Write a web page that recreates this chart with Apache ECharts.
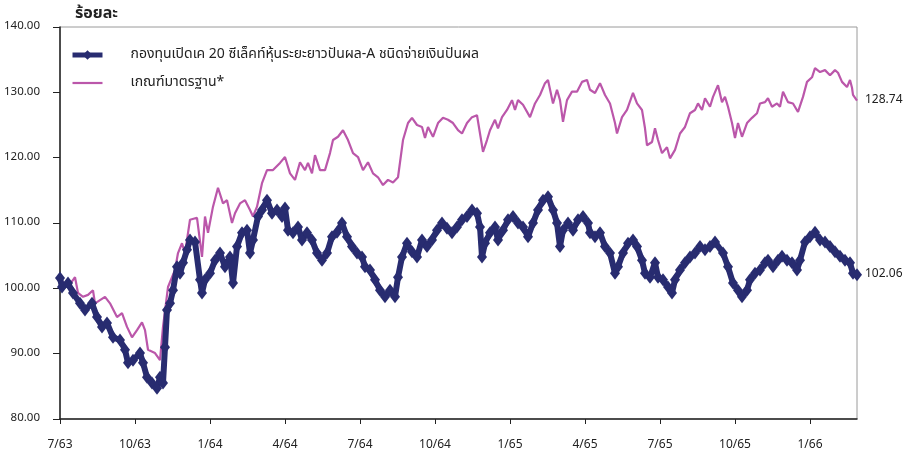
<!DOCTYPE html>
<html>
<head>
<meta charset="utf-8">
<script src="https://cdn.jsdelivr.net/npm/echarts@6/dist/echarts.min.js"></script>
<style>
html,body{margin:0;padding:0;background:#fff;}
#c{width:911px;height:453px;}
</style>
</head>
<body>
<div id="c"></div>
<script>
// x = months elapsed since 7/63 (Thai Buddhist year)
const seriesNames = ['กองทุนเปิดเค 20 ซีเล็คท์หุ้นระยะยาวปันผล-A ชนิดจ่ายเงินปันผล', 'เกณฑ์มาตรฐาน*'];
const yTicks = [80, 90, 100, 110, 120, 130, 140];
const xTickLabels = ['7/63','10/63','1/64','4/64','7/64','10/64','1/65','4/65','7/65','10/65','1/66'];
const unitTitle = 'ร้อยละ';

const fundMonths = [0,0.08,0.32,0.52,0.8,1.0,1.28,1.48,1.68,1.88,2.12,2.4,2.6,2.72,2.92,3.2,3.32,3.48,3.68,3.88,4.0,4.12,4.2,4.28,4.4,4.52,4.68,4.8,4.92,5.08,5.2,5.4,5.6,5.68,5.8,6.0,6.2,6.4,6.6,6.8,6.92,7.08,7.28,7.48,7.6,7.72,7.92,8.08,8.28,8.48,8.68,8.88,9.0,9.12,9.32,9.52,9.68,9.88,10.08,10.28,10.48,10.68,10.88,11.08,11.28,11.48,11.68,11.88,12.08,12.2,12.4,12.6,12.8,13.0,13.2,13.4,13.52,13.68,13.88,14.08,14.28,14.48,14.68,14.88,15.08,15.28,15.48,15.68,15.88,16.08,16.28,16.48,16.68,16.8,16.88,17.0,17.2,17.4,17.52,17.72,17.92,18.12,18.32,18.52,18.72,18.92,19.12,19.32,19.52,19.72,19.88,20.0,20.12,20.32,20.52,20.72,20.92,21.12,21.2,21.4,21.6,21.8,22.0,22.2,22.32,22.52,22.72,22.92,23.08,23.28,23.4,23.6,23.8,23.92,24.12,24.32,24.48,24.6,24.8,25.0,25.2,25.4,25.6,25.8,26.0,26.2,26.52,26.72,26.92,27.12,27.28,27.48,27.6,27.8,28.0,28.2,28.32,28.52,28.72,28.88,29.08,29.28,29.48,29.6,29.8,30.0,30.2,30.4,30.6,30.8,31.0,31.2,31.4,31.6,31.72,31.88];
const fundValues = [101.6,100.2,100.8,99.3,97.7,96.7,97.7,95.6,94.1,94.7,92.5,92.1,90.6,88.6,89.0,90.1,88.6,86.4,85.5,84.7,86.4,85.5,91.0,96.7,97.7,99.7,103.3,102.3,103.9,105.9,107.4,107.1,101.3,99.3,101.3,102.3,104.3,105.4,103.3,104.8,100.8,106.4,108.5,108.9,105.4,107.4,111.0,112.0,113.5,111.5,112.0,111.0,112.3,108.9,108.5,109.4,107.4,108.5,107.4,105.4,104.3,105.4,107.9,108.6,110.0,107.9,106.4,105.4,104.8,103.3,102.8,101.3,99.7,98.7,99.7,98.7,101.7,104.8,106.9,105.6,104.8,107.4,106.4,107.4,108.9,110.0,109.2,108.5,109.4,110.5,111.0,112.0,111.5,109.4,104.8,106.9,108.5,109.4,107.4,108.9,110.5,111.0,110.0,109.4,107.9,110.0,112.0,113.5,114.0,112.0,110.0,106.4,108.9,110.0,108.9,110.5,111.0,110.0,108.5,107.9,108.5,106.4,105.4,102.3,103.3,105.4,106.9,107.4,106.4,104.3,102.3,101.7,103.9,101.7,101.3,100.2,99.3,101.3,102.8,103.9,104.8,105.4,106.4,105.9,106.4,107.1,105.4,103.3,100.8,99.7,98.7,99.7,101.3,102.3,102.8,103.9,104.3,103.3,104.3,104.9,104.3,103.9,102.8,104.3,107.1,107.9,108.6,107.4,107.1,106.4,105.6,104.9,104.3,103.9,102.3,102.06];

const benchMonths = [0,0.2,0.32,0.6,0.72,0.92,1.12,1.32,1.4,1.8,2.0,2.28,2.48,2.68,2.88,3.08,3.28,3.4,3.52,3.8,4.0,4.12,4.32,4.6,4.72,4.88,5.0,5.2,5.48,5.68,5.8,5.92,6.12,6.32,6.52,6.68,6.88,7.0,7.2,7.4,7.6,7.72,7.88,8.08,8.28,8.52,8.8,9.0,9.2,9.4,9.6,9.8,9.92,10.08,10.2,10.4,10.6,10.8,10.92,11.12,11.32,11.52,11.72,11.92,12.12,12.32,12.52,12.72,12.92,13.12,13.32,13.52,13.72,13.92,14.08,14.28,14.48,14.6,14.72,14.92,15.12,15.32,15.52,15.72,15.92,16.08,16.28,16.48,16.68,16.8,16.92,17.08,17.2,17.4,17.52,17.68,17.88,18.08,18.2,18.32,18.52,18.8,19.0,19.2,19.4,19.52,19.72,19.88,20.0,20.12,20.28,20.48,20.68,20.88,21.08,21.2,21.4,21.6,21.8,22.0,22.2,22.28,22.48,22.68,22.92,23.08,23.28,23.4,23.48,23.68,23.8,23.92,24.08,24.28,24.4,24.6,24.8,25.0,25.2,25.4,25.52,25.68,25.8,26.0,26.12,26.32,26.48,26.6,26.72,26.88,27.0,27.12,27.28,27.48,27.68,27.88,28.0,28.2,28.32,28.48,28.68,28.8,28.92,29.12,29.32,29.52,29.72,29.88,30.08,30.2,30.4,30.6,30.8,31.0,31.12,31.28,31.48,31.6,31.68,31.72,31.88];
const benchValues = [101.5,100.5,100.2,101.7,99.3,98.7,99.0,99.7,97.7,98.7,97.7,95.6,96.2,94.1,92.5,93.6,94.8,93.6,90.6,90.1,89.0,94.1,100.2,102.8,105.4,106.9,105.4,110.5,110.8,104.8,111.0,108.5,112.5,115.4,113.0,113.5,110.0,111.5,113.0,113.5,112.0,111.0,112.5,116.1,118.1,118.1,119.2,120.1,117.6,116.6,119.3,118.1,119.2,117.6,120.4,118.1,118.1,120.7,122.7,123.2,124.2,122.7,120.7,120.1,118.1,119.3,117.6,117.0,115.8,116.6,116.2,117.0,122.7,125.3,126.1,125.0,124.7,123.0,124.7,123.2,125.3,126.1,125.8,125.3,124.2,123.7,125.3,126.2,126.5,123.7,120.9,122.7,124.2,125.8,124.5,126.2,127.3,128.8,127.3,128.8,128.1,126.2,128.3,129.6,131.4,131.9,128.3,130.4,128.8,125.5,128.8,130.1,130.1,131.6,131.9,130.4,129.9,131.4,129.6,128.3,125.3,123.7,126.2,127.3,129.9,128.3,127.3,124.5,121.9,122.4,124.5,122.7,120.7,121.6,119.9,121.2,123.7,124.7,126.8,127.3,128.3,127.3,129.1,127.8,129.3,131.1,128.5,129.3,127.8,125.3,123.0,125.3,123.2,125.3,126.1,126.8,128.3,128.5,129.1,127.8,128.3,127.8,130.1,128.5,128.3,127.0,129.3,131.6,132.3,133.7,133.1,133.4,132.6,133.4,133.0,131.6,130.8,131.9,130.7,129.6,128.74];

const fundColor = '#282c70';
const benchColor = '#bb57aa';
const font = '"Noto Sans Thai","Noto Sans","Open Sans","DejaVu Sans",sans-serif';

const fundData = fundMonths.map((m, i) => [m, fundValues[i]]);
const benchData = benchMonths.map((m, i) => [m, benchValues[i]]);
const xMax = fundMonths[fundMonths.length - 1];

const chart = echarts.init(document.getElementById('c'), null, {renderer: 'canvas'});
chart.setOption({
  animation: false,
  backgroundColor: '#fff',
  textStyle: {fontFamily: font},
  title: {
    text: unitTitle, left: 70, top: 2,
    textStyle: {fontSize: 16, fontWeight: 'bold', color: '#222', fontFamily: font}
  },
  legend: {
    orient: 'vertical', left: 65, top: 43, itemWidth: 30, itemHeight: 12, itemGap: 14,
    data: [
      {name: seriesNames[0], lineStyle: {width: 5}, itemStyle: {color: fundColor}},
      {name: seriesNames[1], icon: 'path://M0,0H30V2.2H0Z'}
    ],
    textStyle: {fontSize: 14, color: '#222', padding: [0, 0, 0, 23], fontFamily: font}
  },
  grid: {left: 60, right: 54, top: 27, bottom: 34, show: true, borderColor: '#9a9a9a', borderWidth: 1},
  xAxis: {
    type: 'value', min: 0, max: xMax, interval: 3,
    splitLine: {show: false},
    axisLine: {lineStyle: {color: '#222', width: 1.5}},
    axisTick: {show: true, length: 5, lineStyle: {color: '#222'}},
    axisLabel: {
      margin: 21, fontSize: 12, color: '#222', showMaxLabel: false,
      formatter: v => {
        const k = Math.round(v / 3);
        return Math.abs(v - k * 3) < 1e-6 && xTickLabels[k] ? xTickLabels[k] : '';
      }
    }
  },
  yAxis: {
    type: 'value', min: yTicks[0], max: yTicks[yTicks.length - 1], interval: 10,
    splitLine: {show: false},
    axisLine: {show: true, lineStyle: {color: '#222', width: 1.5}},
    axisTick: {show: true, length: 7, lineStyle: {color: '#222'}},
    axisLabel: {margin: 20, fontSize: 11.5, color: '#222', formatter: v => v.toFixed(2)}
  },
  series: [
    {
      name: seriesNames[0], type: 'line', data: fundData, z: 3,
      symbol: 'diamond', symbolSize: [10, 13], showAllSymbol: true,
      itemStyle: {color: fundColor},
      lineStyle: {color: fundColor, width: 6},
      endLabel: {show: true, distance: 8, fontSize: 12, color: '#222', formatter: p => p.value[1].toFixed(2)}
    },
    {
      name: seriesNames[1], type: 'line', data: benchData, z: 2,
      symbol: 'none', showSymbol: false,
      itemStyle: {color: benchColor},
      lineStyle: {color: benchColor, width: 2.2},
      endLabel: {show: true, distance: 8, fontSize: 12, color: '#222', formatter: p => p.value[1].toFixed(2)}
    }
  ]
});
</script>
</body>
</html>
